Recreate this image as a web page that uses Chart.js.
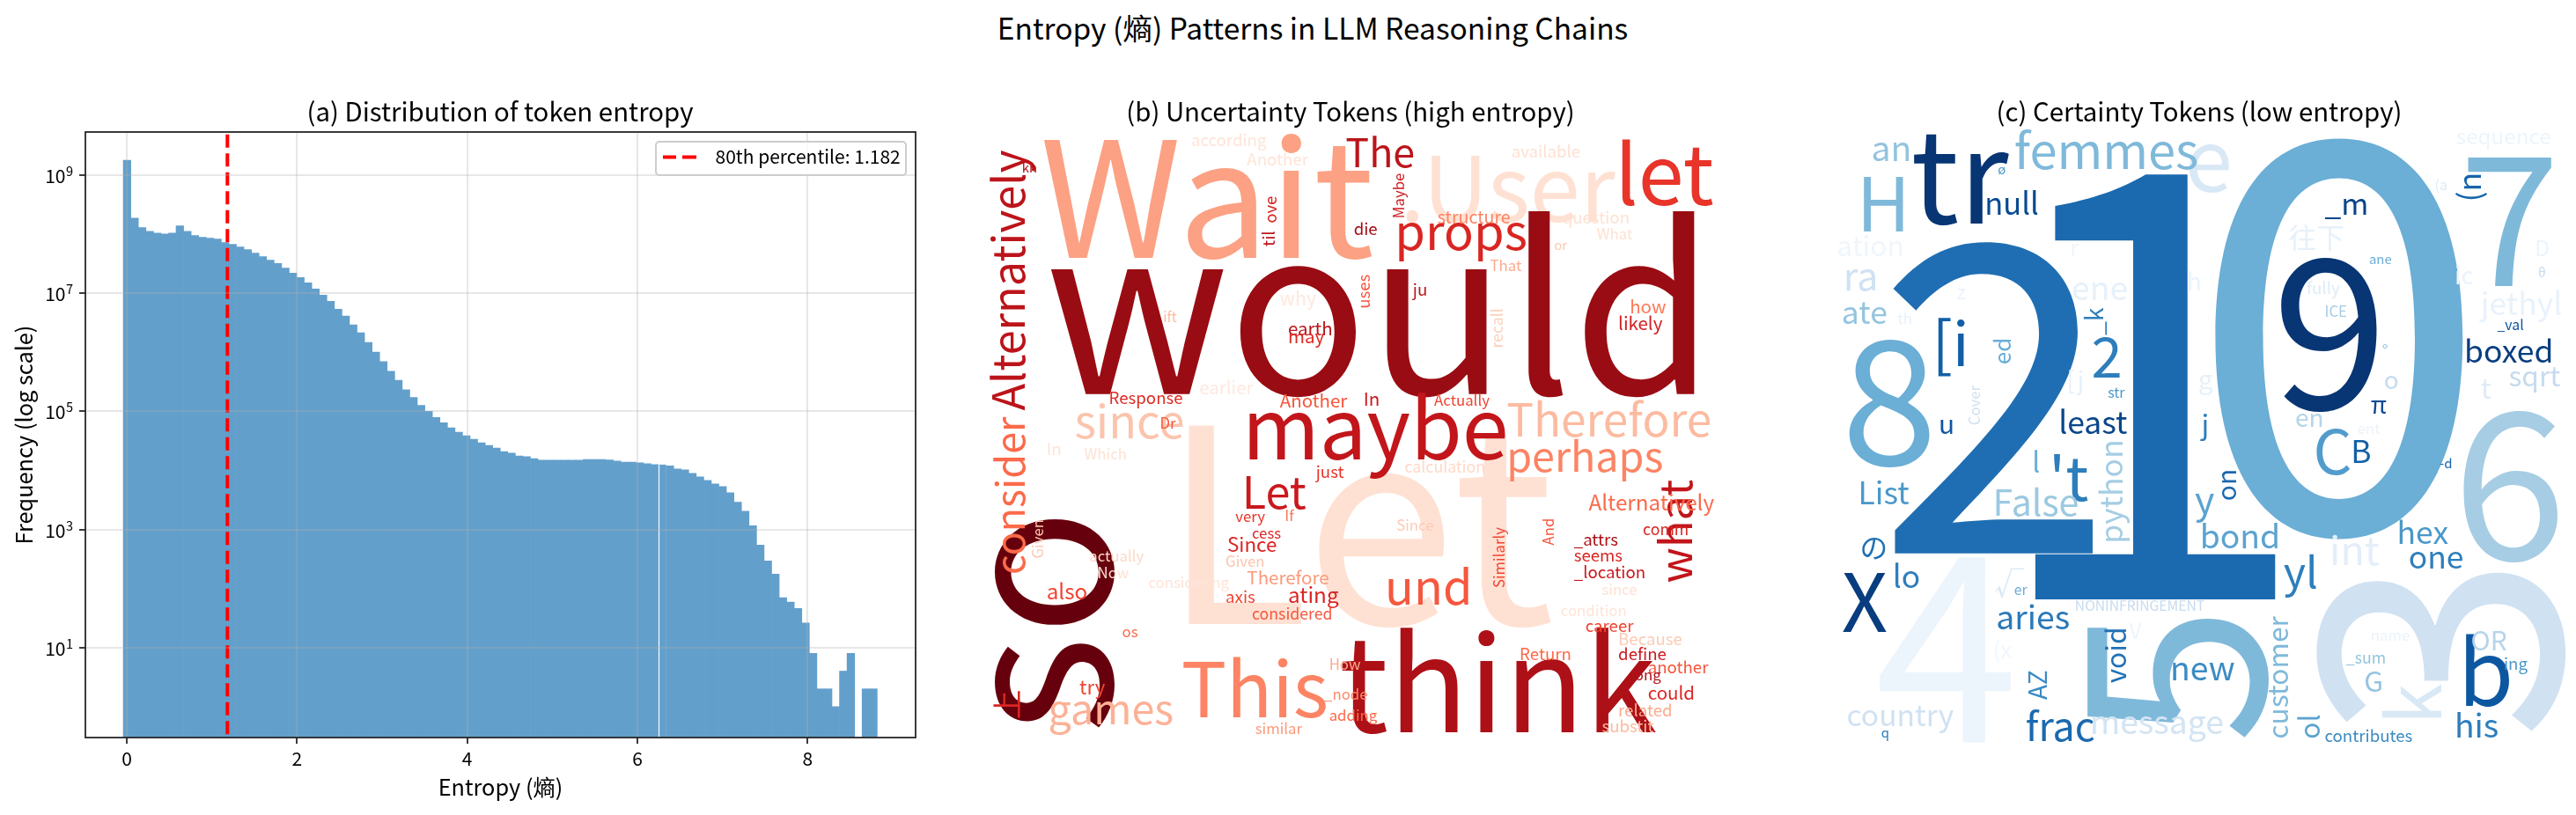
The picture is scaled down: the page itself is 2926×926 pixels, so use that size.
<!DOCTYPE html>
<html>
<head>
<meta charset="utf-8">
<script src="https://cdn.jsdelivr.net/npm/chart.js@4/dist/chart.umd.min.js"></script>
<style>
html,body{margin:0;padding:0;background:#fff;width:2926px;height:926px;overflow:hidden}
canvas{position:absolute;display:block}
#sup{position:absolute;left:991px;width:1000px;top:7px;text-align:center;font:33.5px "Noto Sans CJK SC";color:#000;line-height:48px}
</style>
</head>
<body>
<div id="sup">Entropy (熵) Patterns in LLM Reasoning Chains</div>
<canvas id="a" width="1232" height="826" style="left:0;top:100px"></canvas>
<canvas id="b" width="848" height="746" style="left:1110px;top:100px"></canvas>
<canvas id="c" width="856" height="746" style="left:2070px;top:100px"></canvas>
<script>
const binCounts = [1.77e9,1.86e8,1.28e8,1.11e8,1.04e8,1.00e8,1.04e8,1.37e8,1.11e8,9.40e7,
8.77e7,8.47e7,8.20e7,7.14e7,6.68e7,6.03e7,5.45e7,4.75e7,4.14e7,3.61e7,
3.16e7,2.66e7,2.17e7,1.83e7,1.49e7,1.17e7,9.23e6,7.28e6,5.35e6,4.07e6,
2.90e6,2.13e6,1.46e6,1.00e6,6.92e5,4.75e5,3.35e5,2.32e5,1.71e5,1.26e5,
1.00e5,7.87e4,6.41e4,5.24e4,4.41e4,3.85e4,3.36e4,2.93e4,2.64e4,2.39e4,
2.08e4,1.95e4,1.75e4,1.70e4,1.58e4,1.48e4,1.48e4,1.48e4,1.48e4,1.48e4,
1.48e4,1.53e4,1.53e4,1.53e4,1.50e4,1.43e4,1.38e4,1.38e4,1.34e4,1.29e4,
1.25e4,1.25e4,1.19e4,1.05e4,1.02e4,8870,7740,6760,5890,5320,
4190,2880,2040,1150,541,293,175,70,59,46,
26,8,2,2,1,4,8,null,2,2];
const binStart = -0.0414;
const binWidth = 0.0886;
const percentile80 = 1.182;
const xTickValues = [0,2,4,6,8];
const yTickValues = [1e1,1e3,1e5,1e7,1e9];

const bWords = ["Wait",".User","let","The","would","so","Let","maybe","Therefore","perhaps",
"props","since","Alternatively","consider","上","Let","und","what","Alternatively","This",
"think","games","also","try","In","Given","Response","Dr","Which","actually",
"Now","os","ift","why","earth","may","earlier","Another","In","Actually",
"die","uses","ju","recall","til","ove","according","Another","kn","available",
"Maybe","structure","question","What","or","That","how","likely","Since","calculation",
"just","very","If","cess","Since","Given","Therefore","axis","ating","considered",
"considering","Similarly","And","comm","_attrs","seems","_location","since","condition","career",
"Because","define","another","ong","could","related","substit","Return","How","adding",
"similar","_node"];
const bX = [633,852,983,819,636,677,707,756,917,917,
849,654,624,624,620,756,843,1030,967,719,
815,638,637,657,637,635,675,706,660,663,
668,683,708,779,784,784,730,779,830,873,
824,834,860,915,776,777,725,759,622,920,
855,875,951,972,946,907,992,985,850,855,
801,752,782,762,747,746,759,746,784,762,
699,916,946,1000,958,958,958,975,950,965,
985,985,1003,995,1003,985,975,925,809,809,
764,806];
const bY = [157,135,125,102,240,447,380,280,266,287,
152,267,250,350,438,310,368,355,311,437,
446,441,365,423,277,340,246,261,280,342,
352,388,196,186,204,209,240,248,247,247,
143,188,180,212,150,136,89,101,105,96,
133,136,136,146,152,165,191,201,323,288,
291,318,317,328,336,345,356,367,367,377,
358,358,332,326,332,342,352,362,375,385,
393,402,410,414,426,436,446,402,408,439,
447,426];
const bSize = [98,55,50,24,140,128,165,51,27.5,25,
30,28,27,24,18,27,29,27,13,46,
80,25,13,12,10,9,10,9,9,9,
9,9,8.5,11.5,11,11,11,11,11,9,
10,10,10,9.5,10,10,10,10,8,10,
9,10.5,10,9,8,9,11,11,9,9.5,
10,9,9,9,12,9,11,10,13,9.5,
9,9,9,9.5,10,10,10,9,9,10,
10,10,10,9,11,10,10,10,9,9,
9,9];
const bTone = [.33,.12,.65,.8,.9,1,.12,.78,.25,.42,
.7,.22,.8,.5,.7,.75,.55,.78,.5,.42,
.85,.28,.6,.6,.1,.2,.68,.55,.12,.15,
.12,.5,.25,.08,.8,.68,.07,.55,.75,.6,
.88,.55,.8,.18,.8,.7,.1,.1,.85,.12,
.75,.42,.12,.12,.2,.3,.45,.72,.2,.15,
.65,.65,.45,.7,.7,.22,.35,.6,.7,.55,
.1,.6,.55,.7,.85,.7,.75,.12,.1,.6,
.2,.75,.55,.85,.7,.3,.25,.5,.3,.5,
.35,.4];
const bTurned = [5,12,13,14,17,25,41,43,44,45,50,71,72];

const cWords = ["1","2","0","9","7","8","6","4","3","5",
"tr","e","H","an","femmes","null","ø","sequence","(a","(n",
"_m","往下","ane","D","θ","ic","jethyl","_val","boxed","sqrt",
"t","hex","one","int","yl","bond","y","on","j","g",
"h","r","ation","ra","z","ene","ate","th","[i","ed",
"_k","2","[j","str","least","u","Cover","l","'t","python",
"False","List","の","X","lo","√","er","NONINFRINGEMENT","aries","V",
"(x","void","new","AZ","frac","message","country","q","customer","ol",
"contributes","his","k","b","OR","ing","_sum","G","name","C",
"B","π","o","°","fully","ICE","en","ent","-d"];
const cX = [1207,1142,1332,1383,1497,1121,1493,1141,1559,1379,
1163,1330,1130,1139,1226,1208,1216,1495,1482,1510,
1415,1393,1442,1543,1545,1494,1510,1520,1500,1527,
1510,1459,1466,1418,1390,1339,1336,1361,1340,1338,
1331,1260,1118,1122,1191,1261,1121,1155,1176,1224,
1280,1273,1258,1283,1253,1180,1205,1237,1247,1292,
1213,1131,1132,1121,1152,1214,1226,1263,1215,1296,
1213,1294,1321,1246,1233,1272,1124,1145,1393,1412,
1415,1494,1486,1496,1504,1524,1428,1439,1443,1408,
1431,1443,1451,1450,1404,1415,1397,1435,1485];
const cY = [365,337,324,249,174,283,341,452,451,453,
136,117,141,98,103,131,106,88,116,123,
131,151,161,156,169,173,192,201,221,235,
243,331,346,344,358,334,313,305,265,237,
177,156,156,177,182,183,197,197,223,222,
204,230,237,242,264,264,259,288,305,331,
314,307,340,385,358,362,362,372,383,389,
401,416,414,426,451,447,442,449,450,450,
452,449,441,430,396,408,404,421,390,289,
282,252,237,217,179,193,260,264,285];
const cSize = [363,261,330,127,110,105,125,158,205,152,
78,52,45,21,30,18.5,8,13,8.5,19,
18,17,8,13,8,15,19,8.5,19,17,
17,19,19,24,26,20,23,16,17,16,
15,14,17,23,12,20,19,9,37,14,
15,34,15,8.5,19,16,9,17,37,19,
22,19,17,49,19,18,8.5,8.4,20,13,
14,17,20,15,24,20,18,8,17,17,
10,20,45,55,16,10,9.5,17,9,37,
19,15,15,10,10,9,15,9,8];
const cTone = [.78,.76,.5,.98,.45,.5,.35,.05,.2,.45,
.98,.15,.45,.4,.45,.9,.6,.05,.12,.8,
.92,.08,.5,.06,.25,.06,.07,.85,.95,.25,
.12,.6,.7,.1,.7,.55,.55,.78,.7,.08,
.06,.04,.04,.2,.06,.08,.4,.08,.82,.5,
.7,.7,.08,.6,.92,.85,.2,.5,.7,.35,
.38,.6,.75,.95,.7,.15,.5,.25,.72,.05,
.03,.75,.65,.65,.78,.18,.2,.7,.45,.55,
.65,.7,.15,.85,.3,.6,.4,.4,.06,.58,
.82,.9,.25,.4,.12,.35,.3,.06,.8];
const cTurned = [8,9,19,37,49,50,56,59,71,73,78,79,82];

const reds = ['#fff5f0','#fee0d2','#fcbba1','#fc9272','#fb6a4a','#ef3b2c','#cb181d','#a50f15','#67000d'];
const blues = ['#f7fbff','#deebf7','#c6dbef','#9ecae1','#6baed6','#4292c6','#2171b5','#08519c','#08306b'];
function hex(h){return [1,3,5].map(i=>parseInt(h.substr(i,2),16));}
function toneColor(pal,t){
  const p=Math.min(t,0.9999)*(pal.length-1),i=Math.floor(p),f=p-i;
  const a=hex(pal[i]),b=hex(pal[i+1]);
  return 'rgb('+a.map((v,k)=>Math.round(v+(b[k]-v)*f)).join(',')+')';
}
const FONT='"Noto Sans CJK SC"';
Chart.defaults.font.family=FONT;
Chart.defaults.color='#000';
const UNIT=2926/1568;
const INK='#262626';

const framePlugin={id:'frame',
  beforeUpdate(chart){
    const l=chart.legend;
    if(l) l._layers=()=>[{z:5,draw(){
      const c=chart.ctx;c.save();
      c.beginPath();c.roundRect(745,61,284,38,4);
      c.fillStyle='rgba(255,255,255,0.8)';c.fill();
      c.strokeStyle='#cccccc';c.lineWidth=2;c.stroke();c.restore();
      l.draw();
    }}];
  },
  afterLayout(chart){
    const l=chart.legend;l.left=743;l.top=58;l.adjustHitBoxes();
    chart.titleBlock.left=96;
  },
  afterDraw(chart){
    const a=chart.chartArea,c=chart.ctx,s=chart.scales.y;c.save();
    c.strokeStyle=INK;c.lineWidth=1.8;c.strokeRect(a.left,a.top,a.right-a.left,a.bottom-a.top);
    c.fillStyle='#000';c.textAlign='right';c.textBaseline='alphabetic';
    yTickValues.forEach(v=>{
      const y=s.getPixelForValue(v);
      c.font='14.5px '+FONT;c.fillText(String(Math.round(Math.log10(v))),83,y+1);
      c.font='21px '+FONT;c.fillText('10',74.5,y+9);
    });
    c.restore();
  }};

const yBottom=Math.pow(10,-0.467),yTop=Math.pow(10,9.726);
new Chart(document.getElementById('a'),{
  type:'bar',
  plugins:[framePlugin],
  data:{datasets:[
    {type:'bar',label:'Entropy',order:1,
     data:binCounts.map((v,i)=>({x:binStart+binWidth*(i+0.5),y:v})),
     backgroundColor:'rgb(99,159,203)',barPercentage:1,categoryPercentage:1,
     borderColor:'#fff',borderSkipped:false,
     borderWidth:ctx=>ctx.dataIndex===71?{left:1.4,right:0,top:0,bottom:0}:0},
    {type:'line',label:'80th percentile: '+percentile80.toFixed(3),order:0,
     data:[{x:percentile80,y:yBottom},{x:percentile80,y:yTop}],
     borderColor:'#ff0000',borderWidth:4,borderDash:[15,6.5],pointRadius:0,pointStyle:'line',tension:0}
  ]},
  options:{responsive:false,animation:false,devicePixelRatio:1,
    layout:{padding:{left:0,right:192,top:0,bottom:0}},
    plugins:{
      tooltip:{enabled:false},
      title:{display:true,text:'(a) Distribution of token entropy',font:{size:29.4,weight:'normal',lineHeight:1.2},color:'#000',padding:{top:9,bottom:5.7}},
      legend:{position:'chartArea',align:'start',
        labels:{usePointStyle:true,pointStyleWidth:49,padding:10,font:{size:21},color:'#000',
          filter:i=>i.datasetIndex===1,
          generateLabels(chart){
            return Chart.defaults.plugins.legend.labels.generateLabels(chart).map(i=>Object.assign(i,{lineDash:[15,7,16,40],lineWidth:4,strokeStyle:'#ff0000',pointStyle:'line'}));
          }}}
    },
    scales:{
      x:{type:'linear',offset:false,min:-0.487,max:9.27,
        afterBuildTicks(s){s.ticks=xTickValues.map(v=>({value:v}));},
        afterFit(s){s.height=88;},
        grid:{offset:false,z:1,color:'rgba(176,176,176,0.3)',lineWidth:2,tickColor:INK,tickWidth:1.8,tickLength:7},
        border:{display:false},
        ticks:{font:{size:21},color:'#000',padding:4,maxRotation:0,autoSkip:false,callback:v=>String(v)},
        title:{display:true,text:'Entropy (熵)',font:{size:25.3},color:'#000',padding:{top:0,bottom:16}}},
      y:{type:'logarithmic',min:yBottom,max:yTop,
        afterBuildTicks(s){s.ticks=yTickValues.map(v=>({value:v}));},
        afterFit(s){s.width=97;},
        grid:{z:1,color:'rgba(176,176,176,0.3)',lineWidth:2,tickColor:INK,tickWidth:1.8,tickLength:7},
        border:{display:false},
        ticks:{display:false},
        title:{display:true,text:'Frequency (log scale)',font:{size:25.3},color:'#000',padding:{top:12,bottom:12}}}
    }}
});

const wordPlugin={id:'words',
  afterDatasetsDraw(chart,args,opts){
    const pts=chart.getDatasetMeta(0).data,c=chart.ctx;
    const k=chart.scales.x.width/(chart.scales.x.max-chart.scales.x.min);
    c.save();c.textBaseline='alphabetic';c.textAlign='left';
    opts.words.forEach((w,i)=>{
      c.save();c.translate(pts[i].x,pts[i].y);
      if(opts.turned.includes(i)) c.rotate(-Math.PI/2);
      c.font=(opts.size[i]*k).toFixed(2)+'px '+FONT;
      c.fillStyle=toneColor(opts.palette,opts.tone[i]);
      c.fillText(w,0,0);c.restore();
    });
    c.restore();
  }};

function cloud(id,title,words,xs,ys,size,tone,turned,palette){
  const cv=document.getElementById(id),left=parseFloat(cv.style.left);
  new Chart(cv,{type:'scatter',plugins:[wordPlugin],
    data:{datasets:[{data:words.map((w,i)=>({x:xs[i],y:ys[i]})),pointRadius:0}]},
    options:{responsive:false,animation:false,devicePixelRatio:1,
      layout:{padding:0},
      plugins:{tooltip:{enabled:false},legend:{display:false},
        title:{display:true,text:title,font:{size:29.4,weight:'normal',lineHeight:1.2},color:'#000',padding:{top:9,bottom:1.7}},
        words:{words,size,tone,turned,palette}},
      scales:{
        x:{display:false,type:'linear',min:left/UNIT,max:(left+cv.width)/UNIT},
        y:{display:false,type:'linear',reverse:true,min:146/UNIT,max:846/UNIT}
      }}});
}
cloud('b','(b) Uncertainty Tokens (high entropy)',bWords,bX,bY,bSize,bTone,bTurned,reds);
cloud('c','(c) Certainty Tokens (low entropy)',cWords,cX,cY,cSize,cTone,cTurned,blues);
</script>
</body>
</html>
